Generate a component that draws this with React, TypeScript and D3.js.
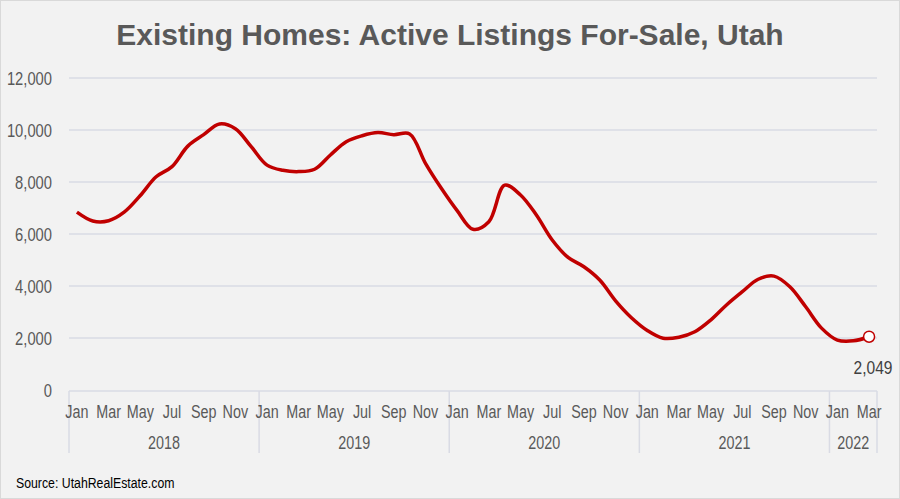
import { useEffect } from 'react';
import * as d3 from 'd3';

const yearLabels = ['2018', '2019', '2020', '2021', '2022'];
const monthsPerYear = [12, 12, 12, 12, 3];
const monthNames = ['Jan', 'Feb', 'Mar', 'Apr', 'May', 'Jun', 'Jul', 'Aug', 'Sep', 'Oct', 'Nov', 'Dec'];

const listings2018 = [6840, 6500, 6510, 6850, 7480, 8200, 8590, 9380, 9820, 10230, 10050, 9360];
const listings2019 = [8650, 8450, 8400, 8490, 9040, 9550, 9780, 9900, 9820, 9850, 8720, 7760];
const listings2020 = [6900, 6180, 6470, 7880, 7500, 6730, 5770, 5100, 4740, 4230, 3430, 2780];
const listings2021 = [2290, 1990, 2030, 2240, 2690, 3270, 3780, 4260, 4380, 3970, 3200, 2380];
const listings2022 = [1920, 1890, 2049];

const yTicks = [0, 2000, 4000, 6000, 8000, 10000, 12000];

const FONT = '"Liberation Sans", Arial, sans-serif';
// the source chart uses a narrow face; squeeze the regular one
const NARROW = 0.82;

function NText({
  x,
  y,
  size,
  anchor = 'middle',
  fill = '#595959',
  children,
}: {
  x: number;
  y: number;
  size: number;
  anchor?: 'start' | 'middle' | 'end';
  fill?: string;
  children: React.ReactNode;
}) {
  return (
    <text
      transform={`translate(${x},${y}) scale(${NARROW},1)`}
      textAnchor={anchor}
      fontFamily={FONT}
      fontSize={size}
      fill={fill}
    >
      {children}
    </text>
  );
}

export default function App() {
  useEffect(() => {
    document.body.style.margin = '0';
  }, []);

  const width = 900;
  const height = 499;
  const plot = { left: 69, right: 877, top: 78, bottom: 390 };

  const values = [...listings2018, ...listings2019, ...listings2020, ...listings2021, ...listings2022];
  const months: { label: string; year: string; i: number }[] = [];
  yearLabels.forEach((yr, yi) => {
    for (let m = 0; m < monthsPerYear[yi]; m++) {
      months.push({ label: monthNames[m], year: yr, i: months.length });
    }
  });

  const x = d3
    .scaleBand<number>()
    .domain(months.map((d) => d.i))
    .range([plot.left, plot.right]);
  const bw = x.bandwidth();
  const cx = (i: number) => (x(i) as number) + bw / 2;

  const y = d3.scaleLinear().domain([0, 12000]).range([plot.bottom, plot.top]);

  const line = d3
    .line<number>()
    .x((_, i) => cx(i))
    .y((d) => y(d))
    .curve(d3.curveCatmullRom.alpha(0.5));

  const fmt = d3.format(',');
  const last = values.length - 1;

  // year group boundaries
  const bounds: number[] = [0];
  monthsPerYear.forEach((n) => bounds.push(bounds[bounds.length - 1] + n));
  const bx = (b: number) => (b === months.length ? plot.right : (x(b) as number));

  return (
    <svg width={width} height={height} style={{ display: 'block' }}>
      <rect x={0.5} y={0.5} width={width - 1} height={height - 1} fill="#f2f2f2" stroke="#d9d9d9" />
      <text
        x={450}
        y={45}
        textAnchor="middle"
        fontFamily={FONT}
        fontWeight="bold"
        fontSize={30}
        fill="#595959"
      >
        Existing Homes: Active Listings For-Sale, Utah
      </text>

      {yTicks.map((t) => (
        <g key={t}>
          {t > 0 && (
            <line x1={plot.left} x2={plot.right} y1={y(t)} y2={y(t)} stroke="#d9dbe4" strokeWidth={1.5} />
          )}
          <NText x={52} y={y(t) + 6.5} size={18} anchor="end">
            {fmt(t)}
          </NText>
        </g>
      ))}

      <line x1={plot.left} x2={plot.right} y1={plot.bottom + 1} y2={plot.bottom + 1} stroke="#d9dbe4" strokeWidth={1.5} />
      {bounds.map((b, k) => (
        <line key={k} x1={bx(b)} x2={bx(b)} y1={plot.bottom + 1} y2={453} stroke="#d9dbe4" strokeWidth={1.5} />
      ))}

      {months
        .filter((d) => monthNames.indexOf(d.label) % 2 === 0)
        .map((d) => (
          <NText key={d.i} x={cx(d.i)} y={418} size={17.5}>
            {d.label}
          </NText>
        ))}

      {yearLabels.map((yr, yi) => (
        <NText key={yr} x={(bx(bounds[yi]) + bx(bounds[yi + 1])) / 2} y={449} size={17.5}>
          {yr}
        </NText>
      ))}

      <path d={line(values) ?? ''} fill="none" stroke="#c00000" strokeWidth={3.5} strokeLinejoin="round" />
      <circle cx={cx(last)} cy={y(values[last])} r={5.5} fill="#ffffff" stroke="#c00000" strokeWidth={1.5} />
      <NText x={873} y={374} size={19} fill="#404040">
        {fmt(values[last])}
      </NText>

      <NText x={16} y={488} size={15} anchor="start" fill="#000000">
        Source: UtahRealEstate.com
      </NText>
    </svg>
  );
}
